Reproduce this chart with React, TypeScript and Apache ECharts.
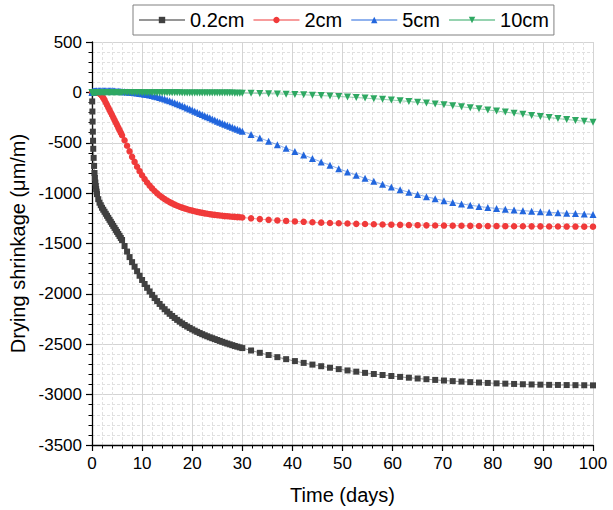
import React, { useEffect, useRef } from "react";
import * as echarts from "echarts";

// Time (days) for every sample (shared by all four series)
const days: number[] = [
  0, 0.04, 0.08, 0.12, 0.17, 0.21, 0.25, 0.33, 0.42, 0.5, 0.58, 0.67, 0.75, 0.83, 0.92, 1,
  1.25, 1.5, 1.75, 2, 2.25, 2.5, 2.75, 3, 3.25, 3.5, 3.75, 4, 4.25, 4.5, 4.75, 5, 5.25, 5.5, 5.75, 6,
  6.5, 7, 7.5, 8, 8.5, 9, 9.5, 10, 10.5, 11, 11.5, 12, 12.5, 13, 13.5, 14, 14.5, 15, 15.5, 16,
  16.5, 17, 17.5, 18, 18.5, 19, 19.5, 20, 20.5, 21, 21.5, 22, 22.5, 23, 23.5, 24, 24.5, 25, 25.5, 26,
  26.5, 27, 27.5, 28, 28.5, 29, 29.5, 30,
  31.75, 33.5, 35.25, 37, 38.75, 40.5, 42.25, 44, 45.75, 47.5, 49.25, 51, 52.75, 54.5, 56.25, 58,
  59.75, 61.5, 63.25, 65, 66.75, 68.5, 70.25, 72, 73.75, 75.5, 77.25, 79, 80.75, 82.5, 84.25, 86,
  87.75, 89.5, 91.25, 93, 94.75, 96.5, 98.25, 100,
];

// Drying shrinkage (µm/m)
const shrink02cm: number[] = [
  0, -90, -190, -290, -390, -480, -560, -650, -730, -800, -850, -895, -930, -960, -985, -1010,
  -1060, -1095, -1120, -1145, -1165, -1185, -1205, -1225, -1245, -1265, -1285, -1305, -1325, -1345, -1365, -1385, -1405, -1425, -1445, -1465,
  -1525, -1580, -1635, -1685, -1730, -1775, -1820, -1862, -1902, -1940,
  -1976, -2010, -2042, -2072, -2100, -2127, -2152, -2176, -2198, -2219,
  -2239, -2258, -2276, -2293, -2309, -2324, -2338, -2352, -2365, -2377,
  -2389, -2400, -2411, -2421, -2431, -2440, -2449, -2458, -2467, -2476,
  -2485, -2493, -2501, -2509, -2517, -2524, -2531, -2538,
  -2562, -2585, -2607, -2628, -2648, -2667, -2685, -2702, -2718, -2733,
  -2747, -2760, -2772, -2784, -2795, -2805, -2815, -2824, -2832, -2840,
  -2847, -2854, -2860, -2866, -2871, -2876, -2880, -2884, -2888, -2891,
  -2894, -2897, -2899, -2901, -2903, -2904, -2905, -2906, -2907, -2908,
];

const shrink2cm: number[] = [
  0, 0, 0, 0, 0, 0, 0, 0, 0, 0, 0, 0, -1, -1, -2, -2,
  -5, -10, -20, -35, -55, -75, -100, -125, -150, -175, -200, -225, -250, -275, -300, -325, -350, -375, -400, -425,
  -475, -530, -585, -640, -690, -738, -782, -823, -860, -894,
  -925, -953, -979, -1002, -1023, -1042, -1059, -1075, -1089, -1102,
  -1114, -1125, -1135, -1144, -1152, -1160, -1167, -1174, -1180, -1186,
  -1191, -1196, -1201, -1205, -1209, -1213, -1216, -1219, -1222, -1225,
  -1228, -1230, -1232, -1234, -1236, -1238, -1240, -1242,
  -1250, -1258, -1265, -1271, -1276, -1281, -1285, -1289, -1293, -1296,
  -1299, -1302, -1305, -1307, -1309, -1311, -1313, -1315, -1317, -1318,
  -1320, -1321, -1322, -1323, -1324, -1325, -1326, -1327, -1327, -1328,
  -1329, -1329, -1330, -1330, -1331, -1331, -1332, -1332, -1333, -1333,
];

const shrink5cm: number[] = [
  0, 2, 4, 5, 6, 7, 8, 9, 10, 11, 12, 12, 13, 13, 14, 14,
  15, 16, 16, 17, 17, 17, 17, 17, 17, 16, 16, 15, 14, 13, 12, 11, 10, 9, 8, 7,
  5, 3, 1, -1, -4, -7, -10, -14, -18, -22,
  -27, -32, -38, -44, -51, -58, -66, -75, -84, -93,
  -102, -112, -122, -132, -143, -154, -165, -176, -187, -198,
  -209, -220, -231, -242, -253, -264, -275, -286, -296, -306,
  -316, -326, -336, -346, -356, -366, -376, -386,
  -418, -452, -486, -520, -554, -588, -622, -656, -690, -723,
  -757, -790, -822, -853, -883, -912, -940, -966, -991, -1014,
  -1036, -1056, -1075, -1092, -1107, -1120, -1132, -1143, -1152, -1160,
  -1167, -1174, -1180, -1185, -1190, -1195, -1199, -1203, -1207, -1211,
];

const shrink10cm: number[] = [
  0, 0, 0, 0, 0, 0, 0, 0, 0, 0, 0, 0, 0, 0, 0, 0,
  0, 0, 0, 0, -1, -1, -1, -1, -1, -1, -1, -1, -1, -1, -2, -2, -2, -2, -2, -2,
  -2, -2, -2, -2, -2, -2, -2, -3, -3, -3,
  -3, -3, -3, -3, -3, -4, -4, -4, -4, -4,
  -4, -4, -4, -5, -5, -5, -5, -5, -5, -5,
  -5, -6, -6, -6, -6, -6, -6, -6, -7, -7,
  -7, -7, -7, -7, -8, -8, -8, -8,
  -9, -11, -13, -15, -18, -21, -24, -28, -32, -36,
  -41, -46, -51, -57, -63, -69, -76, -83, -90, -98,
  -106, -115, -124, -133, -143, -153, -163, -174, -185, -196,
  -207, -218, -229, -240, -250, -260, -269, -278, -287, -296,
];

const seriesNames = ["0.2cm", "2cm", "5cm", "10cm"];
const seriesValues = [shrink02cm, shrink2cm, shrink5cm, shrink10cm];
const xTicks = { min: 0, max: 100, interval: 10 };
const yTicks = { min: -3500, max: 500, interval: 500 };

const colors = ["#404040", "#F03A3A", "#2266DD", "#2EA862"];
const lineColors = [
  "rgba(64,64,64,0.55)",
  "rgba(240,58,58,0.5)",
  "rgba(34,102,221,0.5)",
  "rgba(46,168,98,0.5)",
];
const symbols = ["rect", "circle", "triangle", "triangle"];
const symbolSizes = [6, 6.5, 7, 7];
const symbolRotates = [0, 0, 0, 180];

const FONT = '"Liberation Sans", Arial, Helvetica, sans-serif';

export default function App() {
  const ref = useRef<HTMLDivElement>(null);
  useEffect(() => {
    if (!ref.current) return;
    const chart = echarts.init(ref.current, null, { renderer: "svg" });
    const axisCommon = {
      type: "value" as const,
      nameLocation: "middle" as const,
      nameTextStyle: { fontSize: 20, color: "#000", fontFamily: FONT },
      axisLine: { show: true, onZero: false, lineStyle: { color: "#000", width: 1.3 } },
      axisTick: { show: true, length: 6, lineStyle: { color: "#000", width: 1.2 } },
      minorTick: { show: true, splitNumber: 5, length: 3.5, lineStyle: { color: "#000", width: 1 } },
      axisLabel: {
        fontSize: 17,
        color: "#000",
        fontFamily: FONT,
        margin: 10,
        formatter: (v: number) => String(v),
      },
      splitLine: { show: true, lineStyle: { color: "#d4d4d4", width: 1 } },
      minorSplitLine: { show: true, lineStyle: { color: "#e0e0e0", width: 1, type: [3, 2] } },
    };
    chart.setOption({
      animation: false,
      backgroundColor: "#ffffff",
      textStyle: { fontFamily: FONT },
      legend: {
        left: 133,
        top: 5,
        padding: [5, 5],
        itemGap: 8,
        itemWidth: 46,
        itemHeight: 8,
        borderColor: "#808080",
        borderWidth: 1,
        backgroundColor: "#fff",
        textStyle: { fontSize: 20, color: "#000", fontFamily: FONT },
        data: seriesNames,
      },
      grid: {
        left: 92,
        right: 20,
        top: 42,
        bottom: 65,
        containLabel: false,
        outerBoundsMode: "none",
      },
      xAxis: {
        ...axisCommon,
        ...xTicks,
        name: "Time (days)",
        nameGap: 40,
      },
      yAxis: {
        ...axisCommon,
        ...yTicks,
        name: "Drying shrinkage (μm/m)",
        nameGap: 60,
      },
      series: seriesNames.map((name, k) => ({
        name,
        type: "line",
        data: days.map((d, i) => [d, seriesValues[k][i]]),
        symbol: symbols[k],
        symbolSize: symbolSizes[k],
        symbolRotate: symbolRotates[k],
        showSymbol: true,
        showAllSymbol: true,
        lineStyle: { color: lineColors[k], width: 1 },
        itemStyle: { color: colors[k] },
        z: 2 + k,
      })),
    });
    return () => chart.dispose();
  }, []);
  return (
    <div
      ref={ref}
      style={{ position: "fixed", left: 0, top: 0, width: 613, height: 510, background: "#fff" }}
    />
  );
}
